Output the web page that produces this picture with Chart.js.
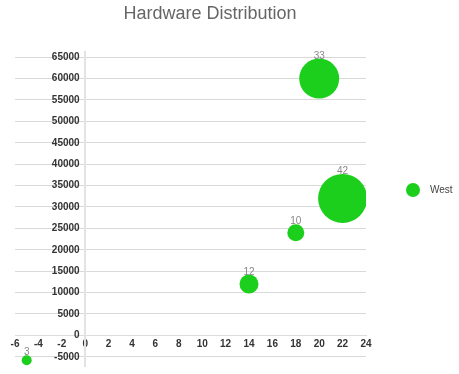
<!DOCTYPE html>
<html>
<head>
<meta charset="utf-8">
<script src="https://cdn.jsdelivr.net/npm/chart.js@4/dist/chart.umd.min.js"></script>
<style>
  html, body { margin: 0; padding: 0; background: #fff; }
  canvas { display: block; }
</style>
</head>
<body>
<canvas id="chart" width="459" height="374"></canvas>
<script>
const chartTitle = 'Hardware Distribution';
const seriesName = 'West';
const xValues = [-5, 14, 18, 20, 22];
const yValues = [-5800, 12000, 24000, 60000, 32000];
const sizes = [3, 12, 10, 33, 42];
const xTicks = [-6, -4, -2, 0, 2, 4, 6, 8, 10, 12, 14, 16, 18, 20, 22, 24];
const yTicks = [-5000, 0, 5000, 10000, 15000, 20000, 25000, 30000, 35000, 40000, 45000, 50000, 55000, 60000, 65000];

const green = '#1ccf1c';
const fontFamily = "Arial, 'Liberation Sans', sans-serif";

// numbers above the bubbles, title and legend
const extras = {
  id: 'extras',
  afterDatasetsDraw(chart) {
    const ctx = chart.ctx;
    const meta = chart.getDatasetMeta(0);
    ctx.save();
    ctx.font = '10px ' + fontFamily;
    ctx.fillStyle = '#888';
    ctx.textAlign = 'center';
    ctx.textBaseline = 'alphabetic';
    meta.data.forEach((el, i) => {
      const r = el.options.radius;
      ctx.fillText(String(sizes[i]), el.x, el.y - r);
    });
    ctx.restore();
  },
  afterDraw(chart) {
    const ctx = chart.ctx;
    ctx.save();
    ctx.font = '18px ' + fontFamily;
    ctx.fillStyle = '#666';
    ctx.textAlign = 'center';
    ctx.textBaseline = 'middle';
    ctx.fillText(chartTitle, 210, 14);

    ctx.beginPath();
    ctx.arc(413, 190, 7, 0, Math.PI * 2);
    ctx.fillStyle = green;
    ctx.fill();
    ctx.font = '10px ' + fontFamily;
    ctx.fillStyle = '#444';
    ctx.textAlign = 'left';
    ctx.fillText(chart.data.datasets[0].label, 430, 190);
    ctx.restore();
  }
};

new Chart(document.getElementById('chart'), {
  type: 'bubble',
  data: {
    datasets: [{
      label: seriesName,
      data: xValues.map((x, i) => ({ x: x, y: yValues[i], v: sizes[i] })),
      backgroundColor: green,
      borderWidth: 0,
      radius: (c) => 3.5 + (c.raw ? c.raw.v : 0) / 2
    }]
  },
  options: {
    responsive: false,
    animation: false,
    layout: { autoPadding: false, padding: { left: 15, right: 93, top: 52, bottom: 6 } },
    plugins: {
      legend: { display: false },
      title: { display: false },
      tooltip: { enabled: false }
    },
    scales: {
      x: {
        type: 'linear',
        position: { y: 0 },
        min: -6,
        max: 24,
        afterBuildTicks: (scale) => { scale.ticks = xTicks.map(v => ({ value: v })); },
        afterFit: (scale) => { scale.height = 0; },
        grid: { display: false, drawTicks: false },
        border: { display: true, color: '#ddd', width: 1 },
        ticks: {
          padding: 3,
          maxRotation: 0,
          autoSkip: false,
          color: '#333',
          font: { family: fontFamily, size: 10, weight: 'bold' },
          callback: (v) => String(v)
        }
      },
      y: {
        type: 'linear',
        position: { x: 0 },
        min: -7150,
        max: 66200,
        afterBuildTicks: (scale) => { scale.ticks = yTicks.map(v => ({ value: v })); },
        afterFit: (scale) => { scale.width = 0; },
        grid: { color: '#d9d9d9', drawTicks: false },
        border: { display: true, color: '#e3e3e3', width: 2 },
        ticks: {
          autoSkip: false,
          color: '#333',
          font: { family: fontFamily, size: 10, weight: 'bold', lineHeight: 1 },
          callback: (v) => v + '  '
        }
      }
    }
  },
  plugins: [extras]
});
</script>
</body>
</html>
